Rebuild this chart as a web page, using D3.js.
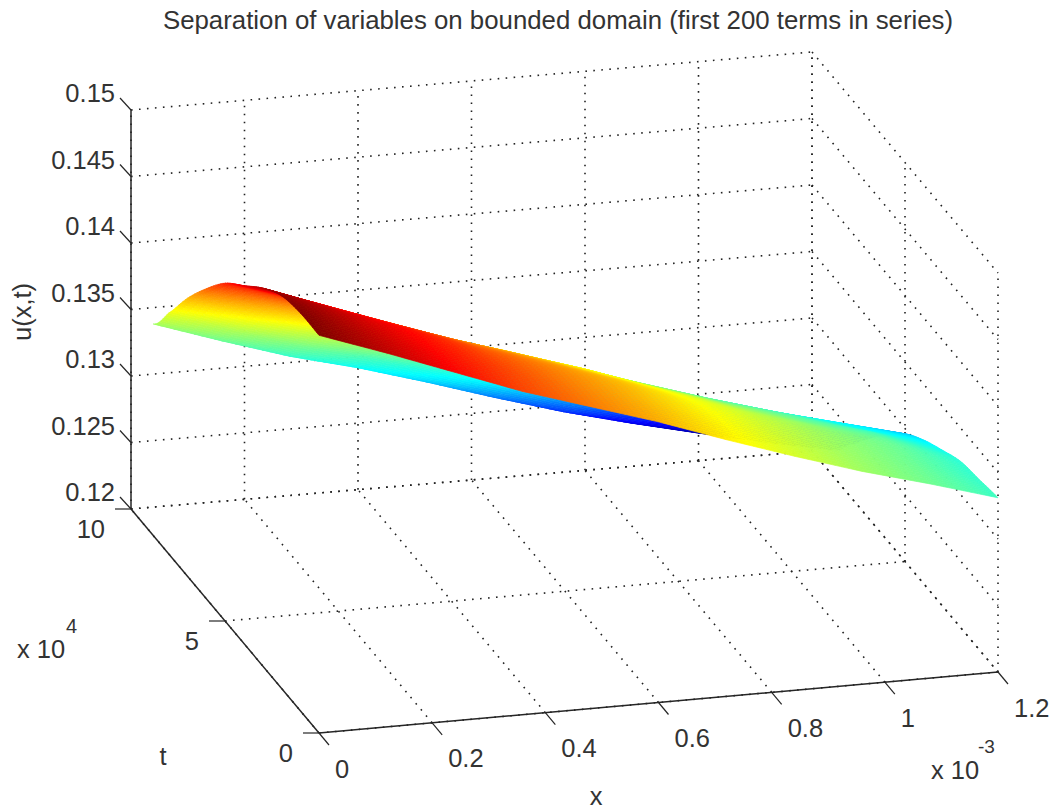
<!DOCTYPE html>
<html><head><meta charset="utf-8">
<script src="https://cdn.jsdelivr.net/npm/d3@7"></script>
<style>html,body{margin:0;padding:0;background:#fff}svg{display:block}text{font-family:"Liberation Sans",Arial,sans-serif;fill:#333}</style>
</head><body><svg id="c" width="1052" height="810"></svg>
<script>
const chartTitle = "Separation of variables on bounded domain (first 200 terms in series)";
const xTicks = [0, 0.0002, 0.0004, 0.0006, 0.0008, 0.001, 0.0012];
const xTickLabels = ["0", "0.2", "0.4", "0.6", "0.8", "1", "1.2"];
const tTicks = [0, 50000, 100000];
const tTickLabels = ["0", "5", "10"];
const uTicks = [0.12, 0.125, 0.13, 0.135, 0.14, 0.145, 0.15];
const uTickLabels = ["0.12", "0.125", "0.13", "0.135", "0.14", "0.145", "0.15"];

// surface samples
const xValues = [0, 0.00012, 0.00024, 0.00036, 0.00048, 0.0006, 0.00072, 0.00084, 0.00096, 0.00108, 0.0012];
const tValues = [0, 10000, 20000, 30000, 40000, 50000, 60000, 70000, 80000, 88200];
const uRow0 = [.1499,.1481,.1462,.1443,.1427,.1411,.1393,.1376,.1360,.1346,.1331];
const uRow1 = [.1499,.1480,.1461,.1443,.1426,.1410,.1392,.1375,.1359,.1345,.1328];
const uRow2 = [.1495,.1476,.1458,.1439,.1423,.1407,.1389,.1372,.1357,.1343,.1325];
const uRow3 = [.1484,.1465,.1447,.1429,.1413,.1396,.1379,.1362,.1347,.1334,.1317];
const uRow4 = [.1469,.1452,.1433,.1416,.1400,.1384,.1366,.1350,.1336,.1321,.1308];
const uRow5 = [.1454,.1436,.1419,.1401,.1386,.1369,.1353,.1337,.1322,.1309,.1296];
const uRow6 = [.1433,.1416,.1398,.1382,.1366,.1350,.1334,.1319,.1305,.1291,.1279];
const uRow7 = [.1409,.1390,.1374,.1358,.1343,.1327,.1311,.1297,.1283,.1271,.1259];
const uRow8 = [.1381,.1363,.1347,.1334,.1318,.1302,.1286,.1273,.1261,.1248,.1238];
const uRow9 = [.1359,.1342,.1326,.1313,.1298,.1282,.1267,.1254,.1242,.1231,.1221];
const uRows = [uRow0,uRow1,uRow2,uRow3,uRow4,uRow5,uRow6,uRow7,uRow8,uRow9];
const colorStops = [0.1235, 0.1306, 0.1499];
const colorLevels = [0, 0.35, 1];

const svg = d3.select("#c");
const xS = d3.scaleLinear().domain([0, 0.0012]).range([0, 1]);
const tS = d3.scaleLinear().domain([0, 100000]).range([0, 1]);
const uS = d3.scaleLinear().domain([0.12, 0.15]).range([0, 399]);
const floor = {a:[319,733], b:[998,672], c:[131,509], d:[812,451]};
function project(x, t, u) {
  const g = xS(x), f = tS(t);
  const sx = (1-g)*(1-f)*floor.a[0] + g*(1-f)*floor.b[0] + (1-g)*f*floor.c[0] + g*f*floor.d[0];
  const sy = (1-g)*(1-f)*floor.a[1] + g*(1-f)*floor.b[1] + (1-g)*f*floor.c[1] + g*f*floor.d[1];
  return [sx, sy - uS(u)];
}
const uMin = uS.domain()[0], uMax = uS.domain()[1], xMax = 0.0012, tMax = 100000;
const lineGen = d3.line();

// dotted grid
const gridLines = [];
xTicks.forEach(x => {
  gridLines.push([[x,0,uMin],[x,tMax,uMin]]);
  gridLines.push([[x,tMax,uMin],[x,tMax,uMax]]);
});
tTicks.forEach(t => {
  gridLines.push([[0,t,uMin],[xMax,t,uMin]]);
  gridLines.push([[xMax,t,uMin],[xMax,t,uMax]]);
});
uTicks.forEach(u => {
  gridLines.push([[0,tMax,u],[xMax,tMax,u]]);
  gridLines.push([[xMax,tMax,u],[xMax,0,u]]);
});
svg.append("g").selectAll("path").data(gridLines).join("path")
  .attr("d", d => lineGen(d.map(p => project(...p))))
  .attr("fill","none").attr("stroke","#222").attr("stroke-width",1.6)
  .attr("stroke-dasharray","1.6 6.4");

// surface
const jet = d3.scaleLinear()
  .domain([0,.125,.375,.625,.875,1])
  .range(["#00007f","#0000ff","#00ffff","#ffff00","#ff0000","#7f0000"])
  .clamp(true);
const cS = d3.scaleLinear().domain(colorStops).range(colorLevels);
function crom(p0,p1,p2,p3,s){
  return 0.5*((2*p1)+(-p0+p2)*s+(2*p0-5*p1+4*p2-p3)*s*s+(-p0+3*p1-3*p2+p3)*s*s*s);
}
function uAt(i, si, j, sj){
  const at = (r) => {
    const row = uRows[Math.max(0,Math.min(uRows.length-1,r))];
    return row[i] + (row[Math.min(i+1,row.length-1)] - row[i]) * si;
  };
  return crom(at(j-1),at(j),at(j+1),at(j+2),sj);
}
const nT = 8, nX = 10, cells = [];
for (let j = tValues.length-2; j >= 0; j--) {
  for (let sj = nT-1; sj >= 0; sj--) {
    for (let i = 0; i < xValues.length-1; i++) {
      for (let si = 0; si < nX; si++) {
        const corners = [[si,sj],[si+1,sj],[si+1,sj+1],[si,sj+1]].map(([a,b]) => {
          const x = xValues[i] + (xValues[i+1]-xValues[i])*a/nX;
          const t = tValues[j] + (tValues[j+1]-tValues[j])*b/nT;
          return {x, t, u: uAt(i,a/nX,j,b/nT)};
        });
        const um = d3.mean(corners, c => c.u);
        cells.push({pts: corners.map(c => project(c.x,c.t,c.u)), c: jet(cS(um))});
      }
    }
  }
}
svg.append("g").selectAll("polygon").data(cells).join("polygon")
  .attr("points", d => d.pts.map(p => p.join(",")).join(" "))
  .attr("fill", d => d.c).attr("stroke", d => d.c).attr("stroke-width",0.7);

// axes
const axisCol = "#262626";
const axes = svg.append("g").attr("fill","none").attr("stroke",axisCol).attr("stroke-width",1.5);
axes.append("path").attr("d", lineGen([project(0,0,uMin),project(xMax,0,uMin)]));
axes.append("path").attr("d", lineGen([project(0,0,uMin),project(0,tMax,uMin)]));
axes.append("path").attr("d", lineGen([project(0,tMax,uMin),project(0,tMax,uMax)]));
const ticks = svg.append("g").attr("fill","none").attr("stroke",axisCol).attr("stroke-width",1.2);
const text = svg.append("g");
const tickFont = 25.5;
xTicks.forEach((x,i) => {
  const p = project(x,0,uMin);
  ticks.append("path").attr("d", lineGen([p,[p[0]+10,p[1]+12]]));
  text.append("text").attr("x",p[0]+16).attr("y",p[1]+44.5).attr("font-size",tickFont).text(xTickLabels[i]);
});
tTicks.forEach((t,i) => {
  const p = project(0,t,uMin);
  ticks.append("path").attr("d", lineGen([p,[p[0]-16,p[1]]]));
  text.append("text").attr("x",p[0]-26).attr("y",p[1]+29).attr("text-anchor","end").attr("font-size",tickFont).text(tTickLabels[i]);
});
uTicks.forEach((u,i) => {
  const p = project(0,tMax,u);
  ticks.append("path").attr("d", lineGen([p,[p[0]-11,p[1]-12]]));
  text.append("text").attr("x",p[0]-16).attr("y",p[1]-8).attr("text-anchor","end").attr("font-size",tickFont).text(uTickLabels[i]);
});
const label = (x,y,s,size,anchor) => text.append("text").attr("x",x).attr("y",y).attr("font-size",size).attr("text-anchor",anchor||"start").text(s);
label(558,29,chartTitle,25.8,"middle");
label(163,765,"t",tickFont,"middle");
label(596,805,"x",tickFont,"middle");
text.append("text").attr("transform","translate(31,312) rotate(-90)").attr("font-size",tickFont).attr("text-anchor","middle").text("u(x,t)");
label(17,658,"x 10",tickFont);
label(66,633,"4",20);
label(931,779,"x 10",tickFont);
label(978,753,"-3",19);
</script></body></html>
